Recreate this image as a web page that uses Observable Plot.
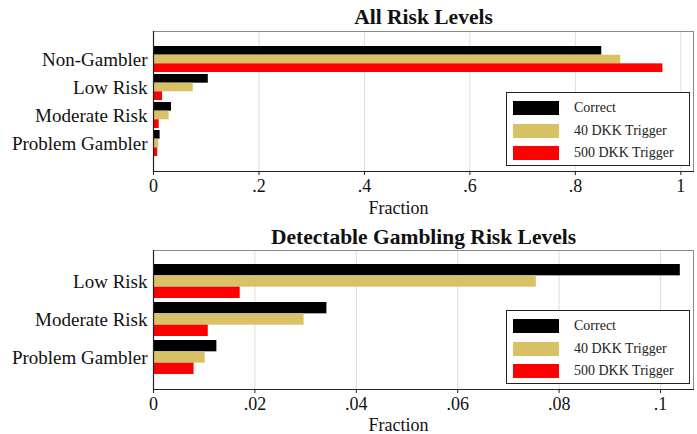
<!DOCTYPE html>
<html><head><meta charset="utf-8">
<script src="https://cdn.jsdelivr.net/npm/d3@7"></script>
<script src="https://cdn.jsdelivr.net/npm/@observablehq/plot@0.6"></script>
<style>
body{margin:0;background:#fff;}
#chart{position:relative;width:697px;height:434px;font-family:"Liberation Serif",serif;overflow:hidden;}
#chart svg{display:block;}
.legend{position:absolute;border:1px solid #222;background:#fff;box-sizing:border-box;}
.legend .sw{position:absolute;left:6px;width:46px;height:14px;}
.legend .lb{position:absolute;left:67px;font-size:14px;line-height:14px;color:#222;white-space:nowrap;}
</style></head><body><div id="chart"></div>
<script>
const categories = ["Non-Gambler", "Low Risk", "Moderate Risk", "Problem Gambler"];
const seriesNames = ["Correct", "40 DKK Trigger", "500 DKK Trigger"];
const seriesColors = ["#000000", "#d9c266", "#ff0000"];
const correct = [0.850, 0.1039, 0.0342, 0.0125];
const dkk40   = [0.886, 0.0755, 0.0297, 0.0102];
const dkk500  = [0.966, 0.0171, 0.0108, 0.0080];
const panelTitles = ["All Risk Levels", "Detectable Gambling Risk Levels"];
const axisLabel = "Fraction";
const ticksTop = [0, 0.2, 0.4, 0.6, 0.8, 1];
const tickLabelsTop = ["0", ".2", ".4", ".6", ".8", "1"];
const ticksBottom = [0, 0.02, 0.04, 0.06, 0.08, 0.1];
const tickLabelsBottom = ["0", ".02", ".04", ".06", ".08", ".1"];

const seriesValues = [correct, dkk40, dkk500];
const rows = [];
categories.forEach((c, j) => seriesNames.forEach((s, i) => rows.push({category: c, series: s, value: seriesValues[i][j]})));

const FONT = "'Liberation Serif', serif";

function build(cfg, bw) {
  const cats = cfg.cats;
  const data = rows.filter(d => cats.includes(d.category));
  const third = bw / 3;
  const bars = seriesNames.map((s, i) => Plot.barX(data.filter(d => d.series === s), {
    x: "value", y: "category", fill: "series",
    insetTop: i * third, insetBottom: (2 - i) * third
  }));
  return Plot.plot({
    width: 697, height: cfg.height,
    marginTop: cfg.mt, marginBottom: cfg.mb, marginLeft: 153, marginRight: 4,
    style: {fontFamily: FONT, background: "#fff", color: "#111"},
    x: {domain: [0, cfg.xMax], ticks: cfg.ticks, label: null},
    y: {domain: cats, paddingInner: cfg.pi, paddingOuter: cfg.po, label: null},
    color: {domain: seriesNames, range: seriesColors},
    marks: [
      Plot.gridX(cfg.ticks, {stroke: "#dedede", strokeOpacity: 1, strokeWidth: 1}),
      ...bars,
      Plot.frame({stroke: "#8a8a8a", strokeWidth: 1}),
      Plot.ruleX([0], {stroke: "#222", strokeWidth: 1.2}),
      Plot.frame({anchor: "bottom", stroke: "#222", strokeWidth: 1.2}),
      Plot.axisX(cfg.ticks, {tickSize: 4, tickPadding: 4, fontSize: 18, fontFamily: FONT, stroke: "#222", fill: "#111",
        tickFormat: (d) => cfg.tickLabels[cfg.ticks.indexOf(d)], label: null}),
      Plot.axisY({tickSize: 0, tickPadding: 6, fontSize: 19, fontFamily: FONT, fill: "#111", label: null}),
      Plot.text([cfg.title], {frameAnchor: "top", lineAnchor: "middle", dy: cfg.titleDy, fontSize: 21.5, fontFamily: FONT, fontWeight: "bold", fill: "#111"}),
      Plot.text([axisLabel], {frameAnchor: "bottom", lineAnchor: "middle", dx: -25, dy: cfg.labelDy, fontSize: 18, fontFamily: FONT, fill: "#111"})
    ]
  });
}

const panels = [
  {cats: categories, height: 217, mt: 31, mb: 46, xMax: 1.024, ticks: ticksTop, tickLabels: tickLabelsTop, pi: 0.08, po: 0.5, title: panelTitles[0], titleDy: -14, labelDy: 37, top: 0},
  {cats: categories.slice(1), height: 217, mt: 33, mb: 45, xMax: 0.1065, ticks: ticksBottom, tickLabels: tickLabelsBottom, pi: 0.094, po: 0.35, title: panelTitles[1], titleDy: -13, labelDy: 36, top: 217}
];

const root = document.getElementById("chart");
panels.forEach(cfg => {
  const probe = build(cfg, 0);
  const bw = probe.scale("y").bandwidth;
  const chart = build(cfg, bw);
  const wrap = document.createElement("div");
  wrap.style.position = "absolute";
  wrap.style.left = "0px";
  wrap.style.top = cfg.top + "px";
  wrap.appendChild(chart);
  root.appendChild(wrap);
  const color = chart.scale("color");
  const frameBottom = cfg.top + cfg.height - cfg.mb;
  const lg = document.createElement("div");
  lg.className = "legend";
  const w = 184, h = 74;
  lg.style.left = (697 - 4 - 3 - w) + "px";
  lg.style.top = (frameBottom - 5 - h) + "px";
  lg.style.width = w + "px";
  lg.style.height = h + "px";
  seriesNames.forEach((s, i) => {
    const cy = 15 + i * 22.5;
    const sw = document.createElement("div");
    sw.className = "sw";
    sw.style.top = (cy - 7) + "px";
    sw.style.background = color.apply(s);
    const lb = document.createElement("div");
    lb.className = "lb";
    lb.style.top = (cy - 7) + "px";
    lb.textContent = s;
    lg.appendChild(sw);
    lg.appendChild(lb);
  });
  root.appendChild(lg);
});
</script>
</body></html>
